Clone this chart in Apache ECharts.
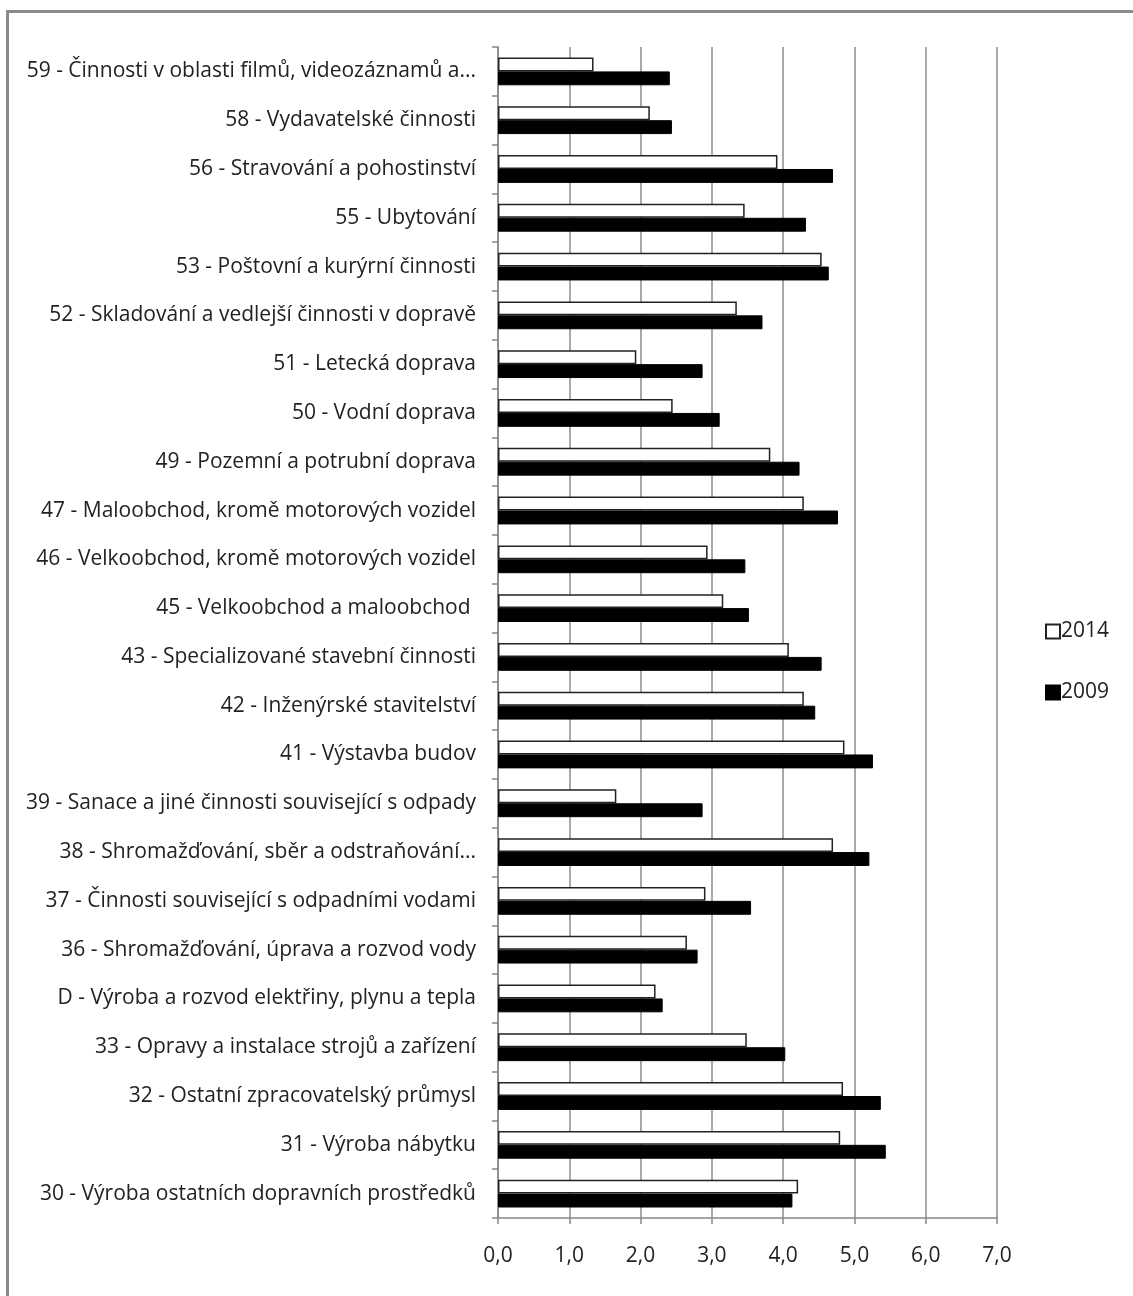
<!DOCTYPE html>
<html>
<head>
<meta charset="utf-8">
<script src="https://cdn.jsdelivr.net/npm/echarts@6/dist/echarts.min.js"></script>
<style>
  html, body { margin: 0; padding: 0; background: #fff; }
  #chart { width: 1133px; height: 1296px; }
  .frame {
    position: absolute; left: 6px; top: 10px; width: 1200px; height: 1400px;
    border-left: 3px solid #8a8a8a; border-top: 3px solid #8a8a8a;
    pointer-events: none;
  }
</style>
</head>
<body>
<div id="chart"></div>
<div class="frame"></div>
<script>
// categories top to bottom as in the picture
const categories = [
  '59 - Činnosti v oblasti filmů, videozáznamů a...',
  '58 - Vydavatelské činnosti',
  '56 - Stravování a pohostinství',
  '55 - Ubytování',
  '53 - Poštovní a kurýrní činnosti',
  '52 - Skladování a vedlejší činnosti v dopravě',
  '51 - Letecká doprava',
  '50 - Vodní doprava',
  '49 - Pozemní a potrubní doprava',
  '47 - Maloobchod, kromě motorových vozidel',
  '46 - Velkoobchod, kromě motorových vozidel',
  '45 - Velkoobchod a maloobchod ',
  '43 - Specializované stavební činnosti',
  '42 - Inženýrské stavitelství',
  '41 - Výstavba budov',
  '39 - Sanace a jiné činnosti související s odpady',
  '38 - Shromažďování, sběr a odstraňování...',
  '37 - Činnosti související s odpadními vodami',
  '36 - Shromažďování, úprava a rozvod vody',
  'D - Výroba a rozvod elektřiny, plynu a tepla',
  '33 - Opravy a instalace strojů a zařízení',
  '32 - Ostatní zpracovatelský průmysl',
  '31 - Výroba nábytku',
  '30 - Výroba ostatních dopravních prostředků'
]

const values2014 = [1.34, 2.13, 3.92, 3.46, 4.54, 3.35, 1.94, 2.45, 3.82, 4.29, 2.94, 3.16,
  4.08, 4.29, 4.86, 1.66, 4.70, 2.91, 2.65, 2.21, 3.49, 4.84, 4.80, 4.21]
const values2009 = [2.41, 2.44, 4.70, 4.32, 4.64, 3.71, 2.87, 3.11, 4.23, 4.77, 3.47, 3.52,
  4.54, 4.45, 5.26, 2.87, 5.21, 3.55, 2.80, 2.31, 4.03, 5.37, 5.44, 4.13]

const xTicks = [0, 1, 2, 3, 4, 5, 6, 7]

const labelFont = "'Liberation Sans Narrow', 'Open Sans', sans-serif"

const chart = echarts.init(document.getElementById('chart'), null, { renderer: 'canvas' })

chart.setOption({
  animation: false,
  backgroundColor: '#fff',
  textStyle: { fontFamily: labelFont },
  grid: { left: 498, right: 136, top: 47, bottom: 78, containLabel: false },
  legend: {
    orient: 'vertical',
    left: 1040,
    top: 616,
    itemWidth: 14,
    itemHeight: 14,
    itemGap: 40,
    icon: 'rect',
    textStyle: { fontSize: 21, color: '#222', fontFamily: labelFont, padding: [0, 0, 0, -4] },
    data: ['2014', '2009']
  },
  xAxis: {
    type: 'value',
    min: xTicks[0],
    max: xTicks[xTicks.length - 1],
    interval: 1,
    axisLine: { show: true, lineStyle: { color: '#888', width: 1.5 } },
    axisTick: { show: true, length: 6, lineStyle: { color: '#888', width: 1.5 } },
    axisLabel: {
      margin: 28,
      fontSize: 21,
      color: '#222',
      fontFamily: labelFont,
      formatter: v => v.toFixed(1).replace('.', ',')
    },
    splitLine: { show: true, lineStyle: { color: '#8c8c8c', width: 1.5 } }
  },
  yAxis: {
    type: 'category',
    inverse: true,
    data: categories,
    axisLine: { show: true, lineStyle: { color: '#888', width: 1.5 } },
    axisTick: { show: true, length: 6, lineStyle: { color: '#888', width: 1.5 } },
    axisLabel: {
      margin: 22,
      fontSize: 21,
      color: '#222',
      fontFamily: labelFont,
      interval: 0
    },
    splitLine: { show: false }
  },
  series: [
    {
      name: '2014',
      type: 'bar',
      data: values2014,
      barGap: '0%',
      barCategoryGap: '43%',
      itemStyle: { color: '#fff', borderColor: '#222', borderWidth: 1.5 }
    },
    {
      name: '2009',
      type: 'bar',
      data: values2009,
      barGap: '0%',
      barCategoryGap: '43%',
      itemStyle: { color: '#000', borderColor: '#000', borderWidth: 1 }
    }
  ]
})
</script>
</body>
</html>
